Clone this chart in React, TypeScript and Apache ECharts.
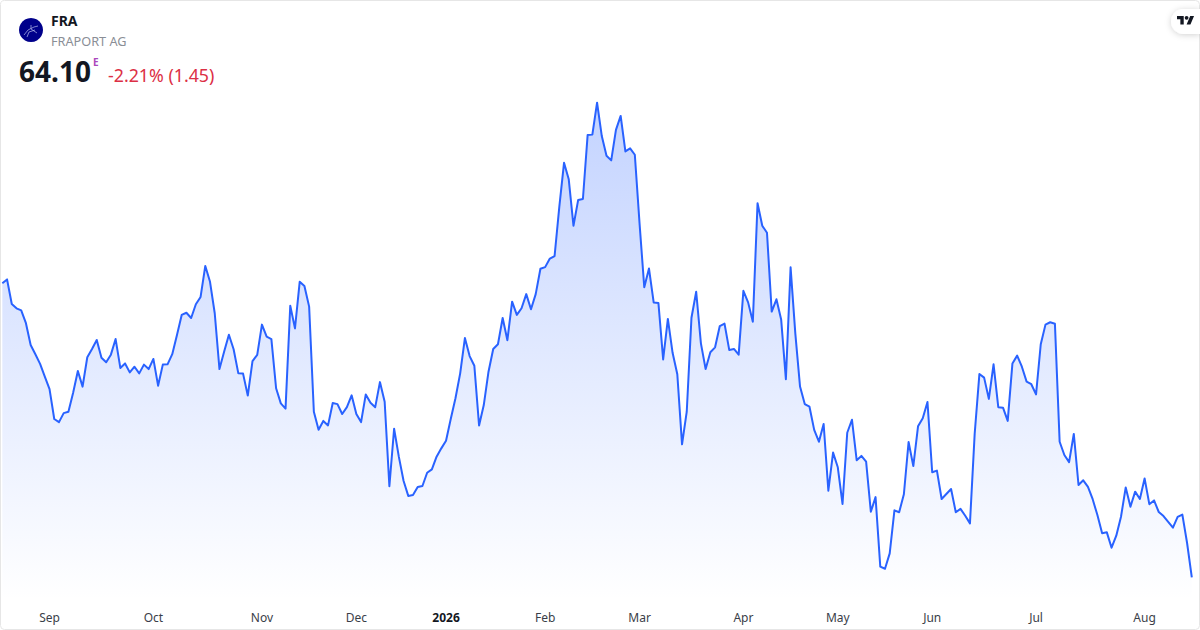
import React, { useEffect, useRef } from "react";
import * as echarts from "echarts";

const prices = [
  76.53, 76.69, 75.65, 75.47, 75.38, 74.84, 73.92, 73.53, 73.12, 72.58,
  72.05, 70.79, 70.66, 71.04, 71.10, 71.90, 72.82, 72.16, 73.40, 73.75,
  74.13, 73.38, 73.19, 73.51, 74.17, 72.95, 73.14, 72.76, 73.00, 72.72,
  73.09, 72.90, 73.33, 72.20, 73.09, 73.10, 73.53, 74.34, 75.19, 75.28,
  75.06, 75.64, 75.95, 77.26, 76.59, 75.26, 72.90, 73.64, 74.35, 73.74,
  72.72, 72.71, 71.78, 73.24, 73.50, 74.78, 74.27, 74.17, 72.09, 71.45,
  71.23, 75.58, 74.62, 76.59, 76.41, 75.54, 71.10, 70.34, 70.71, 70.52,
  71.47, 71.42, 71.00, 71.29, 71.79, 71.00, 70.66, 71.83, 71.48, 71.29,
  72.35, 71.52, 67.95, 70.38, 69.20, 68.18, 67.54, 67.58, 67.92, 67.96,
  68.52, 68.66, 69.20, 69.55, 69.87, 70.79, 71.67, 72.72, 74.21, 73.45,
  73.04, 70.52, 71.38, 72.79, 73.75, 73.95, 75.06, 74.12, 75.75, 75.19,
  75.47, 76.07, 75.43, 76.07, 77.14, 77.21, 77.57, 77.68, 79.76, 81.62,
  80.92, 78.96, 80.05, 80.09, 82.79, 82.81, 84.16, 82.75, 81.92, 81.72,
  83.01, 83.60, 82.10, 82.23, 81.96, 79.06, 76.36, 77.15, 75.71, 75.69,
  73.31, 75.02, 73.59, 72.68, 69.72, 71.10, 75.07, 76.17, 73.99, 72.90,
  73.61, 73.82, 74.72, 74.82, 73.71, 73.75, 73.51, 76.21, 75.72, 74.90,
  79.91, 78.96, 78.66, 75.33, 75.85, 75.00, 72.47, 77.20, 74.41, 72.16,
  71.42, 71.31, 70.33, 69.83, 70.58, 67.76, 69.37, 68.75, 67.20, 70.21,
  70.76, 69.05, 69.23, 68.99, 66.87, 67.49, 64.55, 64.46, 65.11, 66.93,
  66.85, 67.61, 69.82, 68.80, 70.48, 70.82, 71.51, 68.54, 68.61, 67.41,
  67.62, 67.83, 66.85, 66.99, 66.70, 66.38, 70.16, 72.69, 72.54, 71.64,
  73.10, 71.29, 71.27, 70.71, 73.14, 73.47, 73.00, 72.37, 72.26, 71.83,
  73.95, 74.78, 74.88, 74.82, 69.83, 69.27, 68.97, 70.16, 68.00, 68.20,
  67.92, 67.40, 66.73, 65.96, 66.00, 65.35, 65.86, 66.66, 67.90, 67.08,
  67.72, 67.41, 68.28, 67.19, 67.35, 66.86, 66.69, 66.44, 66.20, 66.65,
  66.75, 65.55, 64.10,
];

const tickIndexes = [10, 32, 55, 75, 94, 115, 135, 157, 177, 197, 219, 242];
const tickLabels = ["Sep", "Oct", "Nov", "Dec", "2026", "Feb", "Mar", "Apr", "May", "Jun", "Jul", "Aug"];
const categories = prices.map((_, i) => {
  const at = tickIndexes.indexOf(i);
  return at >= 0 ? tickLabels[at] : "";
});

const symbol = "FRA";
const company = "FRAPORT AG";
const lastPrice = "64.10";
const exchangeMark = "E";
const changeText = "-2.21% (1.45)";

const FONT = '"Noto Sans", "Open Sans", sans-serif';

echarts.graphic.registerShape(
  "tvLogo",
  echarts.graphic.extendPath(
    "M14 22H7V11H0V4h14v18ZM28 22h-8l7.5-18h8L28 22ZM24 8a4 4 0 1 1-8 0a4 4 0 0 1 8 0Z",
    {},
  ) as any,
);

export default function App() {
  const ref = useRef<HTMLDivElement>(null);

  useEffect(() => {
    document.body.style.margin = "0";
    const chart = echarts.init(ref.current!, undefined, { renderer: "svg" });
    chart.setOption({
      animation: false,
      backgroundColor: "#ffffff",
      grid: { left: 2.33, right: 8.2, top: 90, bottom: 30 },
      xAxis: {
        type: "category",
        data: categories,
        boundaryGap: false,
        axisLine: { show: false },
        axisTick: { show: false },
        splitLine: { show: false },
        axisLabel: {
          margin: 11,
          fontFamily: FONT,
          fontSize: 12,
          color: "#3a3e48",
          hideOverlap: false,
          interval: (_i: number, value: string) => value !== "",
          formatter: (value: string) => (value === "2026" ? "{b|2026}" : value),
          rich: {
            b: { fontFamily: FONT, fontSize: 12, fontWeight: "bold", color: "#131722" },
          },
        },
      },
      yAxis: {
        type: "value",
        min: 63.1406,
        max: 84.6962,
        show: false,
        splitLine: { show: false },
      },
      series: [
        {
          type: "line",
          data: prices,
          symbol: "none",
          smooth: false,
          lineStyle: { color: "#2962FF", width: 2, join: "round" },
          itemStyle: { color: "#2962FF" },
          areaStyle: {
            opacity: 1,
            color: new echarts.graphic.LinearGradient(0, 0, 0, 1, [
              { offset: 0, color: "rgba(41,98,255,0.28)" },
              { offset: 1, color: "rgba(41,98,255,0)" },
            ]),
          },
        },
      ],
      graphic: [
        {
          type: "rect",
          silent: true,
          z: 0,
          shape: { x: 0.5, y: 0.5, width: 1199, height: 629, r: 4 },
          style: { fill: "transparent", stroke: "#e6e6e6", lineWidth: 1 },
        },
        { type: "circle", z: 10, shape: { cx: 31, cy: 30, r: 12 }, style: { fill: "#00008b" } },
        {
          type: "polyline",
          z: 11,
          shape: { points: [[24, 35], [28, 30], [34, 27], [38, 26]] },
          style: { stroke: "#b9bdec", lineWidth: 0.7, fill: "none" },
        },
        {
          type: "polyline",
          z: 11,
          shape: { points: [[31, 25], [31, 29], [37, 33]] },
          style: { stroke: "#b9bdec", lineWidth: 0.7, fill: "none" },
        },
        {
          type: "polyline",
          z: 11,
          shape: { points: [[27, 37], [29, 32], [35, 30]] },
          style: { stroke: "#b9bdec", lineWidth: 0.7, fill: "none" },
        },
        {
          type: "text",
          z: 10,
          x: 51,
          y: 20.5,
          style: { text: symbol, font: `bold 14px ${FONT}`, fill: "#131722", verticalAlign: "middle" },
        },
        {
          type: "text",
          z: 10,
          x: 51,
          y: 40.5,
          style: { text: company, font: `12.7px ${FONT}`, fill: "#8a8e96", verticalAlign: "middle" },
        },
        {
          type: "text",
          z: 10,
          x: 19,
          y: 71,
          style: { text: lastPrice, font: `bold 28px ${FONT}`, fill: "#131722", verticalAlign: "middle" },
        },
        {
          type: "text",
          z: 10,
          x: 93,
          y: 61.5,
          style: { text: exchangeMark, font: `bold 10px ${FONT}`, fill: "#ab47bc", verticalAlign: "middle" },
        },
        {
          type: "text",
          z: 10,
          x: 108,
          y: 74.5,
          style: { text: changeText, font: `17.8px ${FONT}`, fill: "#dc3045", verticalAlign: "middle" },
        },
        {
          type: "rect",
          z: 20,
          silent: true,
          shape: { x: 1171, y: 9, width: 29, height: 25, r: [12.5, 0, 0, 12.5] },
          style: { fill: "#ffffff", shadowBlur: 6, shadowColor: "rgba(0,0,0,0.18)", shadowOffsetY: 1 },
        },
        {
          type: "tvLogo",
          z: 21,
          x: 1177,
          y: 14,
          scaleX: 0.48,
          scaleY: 0.48,
          style: { fill: "#131722" },
        },
      ],
    });
    return () => chart.dispose();
  }, []);

  return <div ref={ref} style={{ width: 1200, height: 630 }} />;
}
